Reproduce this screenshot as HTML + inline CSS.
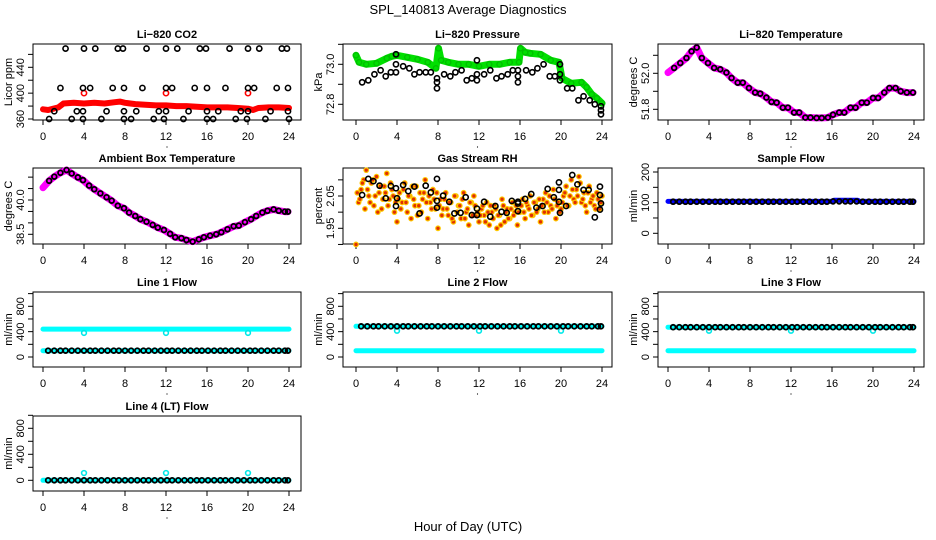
<!DOCTYPE html>
<html><head><meta charset="utf-8"><style>
body{margin:0;background:#fff}
svg{display:block;font-family:"Liberation Sans",Arial,sans-serif}
</style></head><body>
<svg id="c" width="936" height="540" viewBox="0 0 936 540">
<rect width="936" height="540" fill="#fff"/>
<text x="468" y="14" text-anchor="middle" font-size="13">SPL_140813  Average Diagnostics</text>
<text x="468" y="531" text-anchor="middle" font-size="13">Hour of Day (UTC)</text>
</svg>
<script>
// ---------- data ----------
const CO2_RED_T=[0,0.5,1,1.5,2,3,4,5,6,7,7.5,8,9,10,11,12,13,14,15,16,17,18,19,20,20.5,21,22,23,24];
const CO2_RED_V=[375,374,376,378,384,385,384,385,384,386,387,385,383,382,381,381,380,380,379,378,378,378,377,376,374,377,378,378,377];
const CO2_RED_OUT_T=[4,12,20];
const CO2_RED_OUT_V=[400,400,400];
const CO2_B_T=[2.2,4.0,5.1,7.3,7.8,10.1,12.0,13.1,15.3,15.9,18.2,20.0,21.1,23.3,23.8,
1.7,3.9,4.6,6.8,7.9,9.7,12.0,12.6,14.8,16.0,17.8,20.0,20.6,22.8,23.9,
1.1,3.3,3.9,6.2,7.9,9.1,11.3,12.0,14.2,16.0,17.1,19.3,20.0,22.2,23.9,
0.6,2.8,3.9,5.7,7.9,8.6,10.8,11.8,13.7,16.0,16.6,18.8,19.9,21.7,24.0];
const CO2_B_V=[469,469,469,469,469,469,469,469,469,469,469,469,469,469,469,
408,408,408,408,408,408,408,408,408,408,408,408,408,408,408,
372,372,372,372,372,372,372,372,372,372,372,372,372,372,372,
360,360,360,360,360,360,360,360,360,360,360,360,360,360,360];

const P_G_T=[0,0.3,1,2,3,3.5,4,5,6,7,7.8,8.05,8.3,9,10,11,12,13,14,15,15.9,16.05,16.5,17,18,19,19.8,20.1,21,22,22.5,23,23.5,24];
const P_G_V=[73.045,73.01,73.0,73.005,73.03,73.04,73.045,73.035,73.025,73.01,72.98,73.08,73.02,73.01,73.0,73.0,72.99,73.0,73.0,73.01,73.01,73.08,73.06,73.055,73.05,73.02,73.01,72.93,72.905,72.91,72.885,72.85,72.83,72.805];
const P_B_T=[0.6,1.2,1.8,2.4,2.9,3.4,3.9,3.9,3.9,4.6,5.2,5.7,6.2,6.8,7.3,7.9,7.9,7.9,8.6,9.2,9.7,10.3,10.8,11.3,11.8,11.8,11.8,12.5,13.1,13.7,14.2,14.8,15.3,15.8,15.8,15.8,16.6,17.2,17.7,18.3,18.9,19.4,19.9,19.9,19.9,20.6,21.1,21.7,22.2,22.8,23.3,23.9,23.9,23.9];
const P_B_V=[72.91,72.92,72.95,72.97,72.94,72.96,72.96,73.0,73.05,72.99,72.98,72.95,72.96,72.96,72.96,72.93,72.91,72.88,72.95,72.94,72.96,72.97,72.92,72.93,72.92,72.95,73.02,72.95,72.97,72.93,72.94,72.95,72.97,72.97,72.94,72.91,72.97,72.96,72.98,73.0,72.94,72.94,72.92,72.95,73.0,72.88,72.88,72.82,72.84,72.82,72.8,72.79,72.77,72.75];

const T_T=[0,0.6,1.2,1.8,2.3,2.8,3.3,3.9,4.5,5.1,5.7,6.2,6.8,7.3,7.9,8.5,9.0,9.6,10.1,10.6,11.2,11.7,12.3,12.8,13.4,13.9,14.5,15.0,15.6,16.1,16.7,17.2,17.8,18.3,18.9,19.4,20.0,20.5,21.1,21.6,22.2,22.7,23.3,23.9];
const T_V=[52.004,52.03,52.057,52.085,52.122,52.143,52.085,52.057,52.03,52.022,52.004,51.974,51.948,51.948,51.918,51.893,51.887,51.865,51.841,51.837,51.809,51.809,51.782,51.782,51.754,51.754,51.752,51.752,51.754,51.77,51.782,51.782,51.809,51.809,51.837,51.837,51.863,51.863,51.893,51.918,51.918,51.9,51.893,51.893];

const A_T=[0,0.6,1.1,1.7,2.3,2.8,3.4,3.9,4.5,5.0,5.6,6.2,6.7,7.3,7.9,8.4,9.0,9.5,10.1,10.7,11.2,11.8,12.4,12.9,13.5,14.0,14.6,15.2,15.7,16.3,16.9,17.4,18.0,18.6,19.1,19.7,20.3,20.8,21.4,21.9,22.5,23.0,23.6,23.9];
const A_V=[40.54,40.84,41.02,41.19,41.31,41.16,40.99,40.87,40.63,40.47,40.29,40.12,39.97,39.75,39.64,39.45,39.30,39.16,39.05,38.91,38.79,38.69,38.52,38.37,38.33,38.25,38.18,38.28,38.37,38.44,38.50,38.59,38.72,38.85,38.88,39.03,39.16,39.30,39.45,39.53,39.59,39.53,39.49,39.49];

const RH_O1=[1.90,2.03,2.07,2.10,2.13,2.05,2.09,2.02,2.11,2.06,2.01,2.08,2.12,2.04,2.07,2.00,
1.97,2.06,2.03,2.09,2.00,2.05,2.08,2.02,1.99,2.06,2.04,2.10,1.98,2.03,2.07,2.01,
1.95,2.04,2.01,2.06,1.99,2.03,1.97,2.05,2.02,1.98,2.06,2.00,1.96,2.03,2.05,1.99,
1.97,2.01,1.99,2.03,1.96,2.00,2.02,1.95,1.99,2.04,1.97,2.01,1.98,2.03,2.00,1.96,
2.00,2.04,1.98,2.02,2.05,1.99,2.03,2.01,1.97,2.04,2.06,2.00,2.02,2.07,1.98,2.03,
2.01,2.05,2.08,2.02,2.10,2.04,2.07,2.11,2.03,2.06,2.00,2.08,2.04,2.02,2.06,2.01,2.05];
const RH_O2=[2.06,2.04,2.09,2.01,2.07,2.03,2.10,2.05,2.00,2.08,2.04,2.06,2.02,2.09,2.05,2.03,
2.04,2.01,2.07,2.03,2.05,1.98,2.04,2.08,2.02,2.00,2.06,2.03,2.05,2.01,2.04,2.06,
2.02,1.99,2.04,2.01,2.03,1.98,2.05,2.00,2.02,2.04,1.98,2.01,2.03,1.99,2.02,2.00,
1.99,2.02,1.97,2.00,2.02,1.98,2.01,1.99,1.96,2.02,2.00,1.98,2.01,1.99,2.02,2.00,
2.02,2.00,2.03,2.01,1.99,2.03,2.00,2.04,2.02,2.00,2.03,2.05,2.01,2.04,2.02,2.00,
2.03,2.06,2.02,2.05,2.07,2.03,2.05,2.09,2.04,2.02,2.06,2.03,2.05,2.01,2.04,2.03];
const RH_B_T=[0.6,1.2,1.7,2.3,2.9,3.4,3.9,3.9,4.0,4.6,5.1,5.7,6.2,6.8,7.3,7.9,7.9,7.9,8.5,9.1,9.6,10.2,10.7,11.3,11.8,11.8,12.5,13.1,13.6,14.2,14.7,15.2,15.8,15.8,15.8,16.5,17.1,17.6,18.2,18.7,19.3,19.8,19.8,19.8,19.9,20.5,21.1,21.6,22.2,22.7,23.3,23.8,23.8,23.8,23.9];
const RH_B_V=[2.053,2.103,2.096,2.082,2.043,2.081,2.074,2.019,2.043,2.084,2.065,2.079,1.996,2.082,2.061,2.035,2.014,2.103,2.051,2.032,1.996,1.998,2.046,1.991,2.011,1.991,2.032,1.986,2.019,2.001,1.998,2.035,2.032,2.003,2.027,2.041,2.056,2.014,2.019,2.072,2.046,2.069,2.092,2.032,1.998,2.019,2.115,2.086,2.069,2.069,1.984,2.079,2.053,2.008,2.027];

const FB_T=[0.5,1.1,1.7,2.2,2.8,3.4,4.0,4.6,5.1,5.7,6.3,6.9,7.4,8.0,8.6,9.2,9.8,10.3,10.9,11.5,12.1,12.6,13.2,13.8,14.4,15.0,15.5,16.1,16.7,17.3,17.8,18.4,19.0,19.6,20.2,20.7,21.3,21.9,22.5,23.0,23.6,23.9];
const SF_B=[103,103,103,103,103,103,103,103,103,103,103,103,103,103,103,103,103,103,103,103,103,103,103,103,103,103,103,104,104,104,104,104,103,103,103,103,103,103,103,103,103,103];
const L1_B=[100,100,100,100,100,100,100,100,100,100,100,100,100,100,100,100,100,100,100,100,100,100,100,100,100,100,100,100,100,100,100,100,100,100,100,100,100,100,100,100,100,100];
const L2_B=[484,484,484,484,484,484,484,484,484,484,484,484,484,484,484,484,484,484,484,484,484,484,484,484,484,484,484,484,484,484,484,484,484,484,484,484,484,484,484,484,484,484];
const L3_B=[470,470,470,470,470,470,470,470,470,470,470,470,470,470,470,470,470,470,470,470,470,470,470,470,470,470,470,470,470,470,470,470,470,470,470,470,470,470,470,470,470,470];
const L4_B=[0,0,0,0,0,0,0,0,0,0,0,0,0,0,0,0,0,0,0,0,0,0,0,0,0,0,0,0,0,0,0,0,0,0,0,0,0,0,0,0,0,0];
const SF_C_T=[0,4,8,12,16,16.2,18.5,18.7,20,24];
const SF_C_V=[104,104,104,104,104,108,108,104,104,104];
const CY_T=[0,8,16,24];
const L1_CY_HI=[440,440,440,440];
const L1_CY_LO=[100,100,100,100];
const L2_CY_HI=[484,484,484,484];
const L2_CY_LO=[100,100,100,100];
const L3_CY_HI=[470,470,470,470];
const L3_CY_LO=[100,100,100,100];
const L4_CY=[0,0,0,0];
const DIP_T=[4,12,20];
const L1_DIP=[380,380,380];
const L2_DIP=[415,415,415];
const L3_DIP=[415,415,415];
const L4_DIP=[112,112,112];

// ---------- drawing ----------
const svg=document.getElementById('c');
const NS='http://www.w3.org/2000/svg';
const COLX0=[43,356,668], BOXL=[33,343,658], BOXR=[301,612,924];
const ROWT=[44,168,292,416], ROWB=[120,244,367,491];
const HX=10.25;
function el(tag,attrs,parent){const e=document.createElementNS(NS,tag);for(const k in attrs)e.setAttribute(k,attrs[k]);(parent||svg).appendChild(e);return e;}
function panel(key,title,col,row,ylab,ticks,labels,dec,v1,y1,v2,y2){
  const g=el('g',{});
  
  
  const L=BOXL[col],R=BOXR[col],T=ROWT[row],B=ROWB[row];
  const ys=v=>y1+(v-v1)*(y2-y1)/(v2-v1);
  const xs=h=>COLX0[col]+h*HX;
  const box=el('rect',{x:L,y:T,width:R-L,height:B-T,fill:'none',stroke:'#000','stroke-width':1},g);
  
  
  const t=el('text',{x:(L+R)/2,y:T-6,'text-anchor':'middle','font-size':11,'font-weight':'bold'},g);
  t.textContent=title;
  
  
  for(let h=0;h<=24;h+=4){
    el('line',{x1:xs(h),x2:xs(h),y1:B,y2:B+5,stroke:'#000'},g);
    const tx=el('text',{x:xs(h),y:B+20,'text-anchor':'middle','font-size':11},g);
    tx.textContent=h;
    
    
  }
  el('circle',{cx:(L+R)/2,cy:B+27,r:0.6,fill:'#000'},g);
  for(const v of ticks){
    el('line',{x1:L,x2:L-5,y1:ys(v),y2:ys(v),stroke:'#000'},g);
  }
  for(const v of labels){
    const y=ys(v),x=L-13;
    const tl=el('text',{x:x,y:y,'text-anchor':'middle','font-size':11,transform:`rotate(-90 ${x} ${y})`,dy:4},g);
    tl.textContent=v.toFixed(dec);
    
    
  }
  const yx=L-25,yy=(T+B)/2;
  const yt=el('text',{x:yx,y:yy,'text-anchor':'middle','font-size':11,transform:`rotate(-90 ${yx} ${yy})`,dy:4},g);
  yt.textContent=ylab;
  
  
  return {g,xs,ys};
}
function band(p,T,V,color,w,name){
  const pts=T.map((h,i)=>p.xs(h).toFixed(1)+','+p.ys(V[i]).toFixed(1)).join(' ');
  const pl=el('polyline',{points:pts,fill:'none',stroke:color,'stroke-width':w,'stroke-linejoin':'round','stroke-linecap':'round'},p.g);
  
  
}
function pts(p,T,V,stroke,fill,r,sw,name){
  const g=el('g',{},p.g);
  
  
  T.forEach((h,i)=>{el('circle',{cx:p.xs(h),cy:p.ys(V[i]),r:r,fill:fill,stroke:stroke,'stroke-width':sw},g);});
}

// CO2
let p=panel('co2','Li\u2212820 CO2',0,0,'Licor ppm',[360,380,400,420,440,460],[360,400,440],0,360,119,440,67.3);
band(p,CO2_RED_T,CO2_RED_V,'#ff0000',6,'co2-red-series');
pts(p,CO2_RED_OUT_T,CO2_RED_OUT_V,'#ff0000','none',2.6,1.6,'co2-red-outliers');
pts(p,CO2_B_T,CO2_B_V,'#000','none',2.6,1.6,'co2-black-points');
// Pressure
p=panel('pressure','Li\u2212820 Pressure',1,0,'kPa',[72.8,72.9,73.0,73.1],[72.8,73.0],1,72.8,104.3,73.0,64.3);
band(p,P_G_T,P_G_V,'#00e000',7,'pressure-green-series');
pts(p,P_G_T,P_G_V,'#00c000','none',2.6,1.4,'pressure-green-points');
pts(p,P_B_T,P_B_V,'#000','none',2.6,1.6,'pressure-black-points');
// Temperature
p=panel('li820-temp','Li\u2212820 Temperature',2,0,'degrees C',[51.8,51.9,52.0,52.1],[51.8,52.0],1,51.8,109.3,52.0,73.3);
band(p,T_T,T_V,'#ff00ff',7,'temp-magenta-series');
pts(p,T_T.slice(1),T_V.slice(1),'#000','none',2.4,1.8,'temp-black-points');
// Ambient
p=panel('ambient','Ambient Box Temperature',0,1,'degrees C',[38.5,39.0,39.5,40.0,40.5,41.0],[38.5,40.0],1,38.5,234.3,40.0,200);
band(p,A_T,A_V,'#ff00ff',7,'ambient-magenta-series');
pts(p,A_T.slice(1),A_V.slice(1),'#000','none',2.4,1.8,'ambient-black-points');
// RH
p=panel('rh','Gas Stream RH',1,1,'percent',[1.90,1.95,2.00,2.05,2.10],[1.95,2.05],2,1.95,228.3,2.05,196);
pts(p,RH_O1.map((v,i)=>i*0.25),RH_O1,'#ffc800','#e03000',2.3,1.2,'rh-orange-points-a');
pts(p,RH_O2.map((v,i)=>0.125+i*0.25),RH_O2,'#ffc800','#e03000',2.3,1.2,'rh-orange-points-b');
pts(p,RH_B_T,RH_B_V,'#000','none',2.6,1.6,'rh-black-points');
// Sample flow
p=panel('sample-flow','Sample Flow',2,1,'ml/min',[0,50,100,150,200],[0,100,200],0,0,233.3,200,172);
band(p,SF_C_T,SF_C_V,'#0000ff',5,'sample-flow-blue-series');
pts(p,FB_T,SF_B,'#000','none',2.4,1.8,'sample-flow-black-points');
// Line flows
const FT=[0,200,400,600,800,1000],FL=[0,400,800];
p=panel('line1','Line 1 Flow',0,2,'ml/min',FT,FL,0,0,357,800,306.3);
band(p,CY_T,L1_CY_HI,'#00ffff',5,'line1-cyan-high');
band(p,CY_T,L1_CY_LO,'#00ffff',5,'line1-cyan-low');
pts(p,DIP_T,L1_DIP,'#00e8e8','none',2.4,1.6,'line1-cyan-dips');
pts(p,FB_T,L1_B,'#000','none',2.4,1.8,'line1-black-points');
p=panel('line2','Line 2 Flow',1,2,'ml/min',FT,FL,0,0,357,800,306.3);
band(p,CY_T,L2_CY_HI,'#00ffff',5,'line2-cyan-high');
band(p,CY_T,L2_CY_LO,'#00ffff',5,'line2-cyan-low');
pts(p,DIP_T,L2_DIP,'#00e8e8','none',2.4,1.6,'line2-cyan-dips');
pts(p,FB_T,L2_B,'#000','none',2.4,1.8,'line2-black-points');
p=panel('line3','Line 3 Flow',2,2,'ml/min',FT,FL,0,0,357,800,306.3);
band(p,CY_T,L3_CY_HI,'#00ffff',5,'line3-cyan-high');
band(p,CY_T,L3_CY_LO,'#00ffff',5,'line3-cyan-low');
pts(p,DIP_T,L3_DIP,'#00e8e8','none',2.4,1.6,'line3-cyan-dips');
pts(p,FB_T,L3_B,'#000','none',2.4,1.8,'line3-black-points');
p=panel('line4','Line 4 (LT) Flow',0,3,'ml/min',FT,FL,0,0,480.3,800,428.3);
band(p,CY_T,L4_CY,'#00ffff',5,'line4-cyan-series');
pts(p,DIP_T,L4_DIP,'#00e8e8','none',2.4,1.6,'line4-cyan-spikes');
pts(p,FB_T,L4_B,'#000','none',2.4,1.8,'line4-black-points');
</script>
</body></html>
